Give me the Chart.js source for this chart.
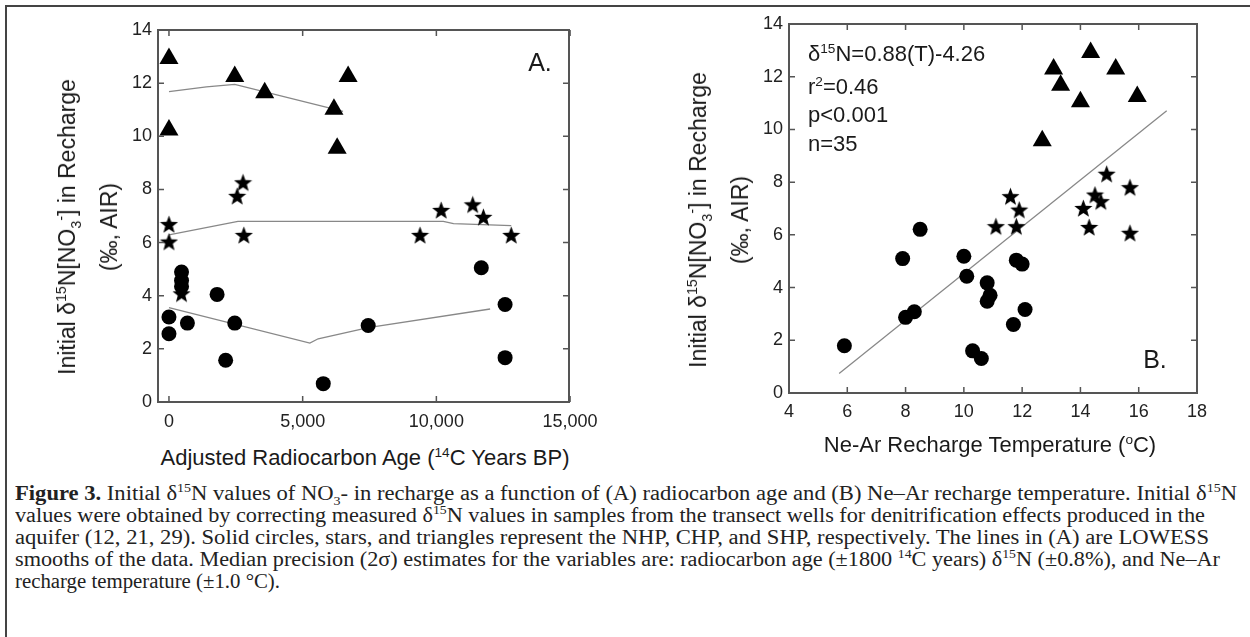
<!DOCTYPE html>
<html>
<head>
<meta charset="utf-8">
<script src="https://cdn.jsdelivr.net/npm/chart.js@4"></script>
<style>
  body { margin:0; background:#fff; width:1250px; height:637px; overflow:hidden; position:relative;
         font-family:'Liberation Sans', Arial, sans-serif; color:#1a1a1a; }
  .frame { position:absolute; left:5px; top:5px; width:1300px; height:700px;
           border-left:2px solid #444; border-top:2px solid #444; }
  canvas { position:absolute; top:0; }
  .lbl { position:absolute; white-space:nowrap; }
  sup, sub { font-size:0.62em; line-height:0; }
  .ytitle { transform:translate(-50%,-50%) rotate(-90deg); text-align:center; font-size:23px; line-height:42px; }
  .xtitle { transform:translate(-50%,-50%); font-size:22px; }
  .panel { transform:translate(-50%,-50%); font-size:25px; }
  .stat { font-size:22px; transform:translateY(-50%); }
  .cap { position:absolute; left:15px; top:482px; font-family:'Liberation Serif', 'Times New Roman', serif;
         font-size:20.5px; color:#222; }
  .cap .ln { height:22px; line-height:22px; white-space:nowrap; }
  .cap .ln span { display:inline-block; transform-origin:0 50%; }
</style>
</head>
<body>
<div class="frame"></div>
<canvas id="chartA" width="610" height="440" style="left:0px;width:610px;height:440px"></canvas>
<canvas id="chartB" width="620" height="440" style="left:620px;width:620px;height:440px"></canvas>

<div class="lbl ytitle" style="left:88px;top:227px">Initial δ<sup>15</sup>N[NO<sub>3</sub><sup>-</sup>] in Recharge<br>(‰, AIR)</div>
<div class="lbl xtitle" style="left:365px;top:458px">Adjusted Radiocarbon Age (<sup>14</sup>C Years BP)</div>
<div class="lbl panel" style="left:540px;top:62px">A.</div>

<div class="lbl ytitle" style="left:719px;top:220px">Initial δ<sup>15</sup>N[NO<sub>3</sub><sup>-</sup>] in Recharge<br>(‰, AIR)</div>
<div class="lbl xtitle" style="left:990px;top:445px">Ne-Ar Recharge Temperature (<sup>o</sup>C)</div>
<div class="lbl panel" style="left:1155px;top:359px">B.</div>
<div class="lbl stat" style="left:808px;top:54px">δ<sup>15</sup>N=0.88(T)-4.26</div>
<div class="lbl stat" style="left:808px;top:87px">r<sup>2</sup>=0.46</div>
<div class="lbl stat" style="left:808px;top:115px">p&lt;0.001</div>
<div class="lbl stat" style="left:808px;top:144px">n=35</div>

<div class="cap">
  <div class="ln" data-w="1222"><span><b>Figure 3.</b> Initial δ<sup>15</sup>N values of NO<sub>3</sub>- in recharge as a function of (A) radiocarbon age and (B) Ne–Ar recharge temperature. Initial δ<sup>15</sup>N</span></div>
  <div class="ln" data-w="1190"><span>values were obtained by correcting measured δ<sup>15</sup>N values in samples from the transect wells for denitrification effects produced in the</span></div>
  <div class="ln" data-w="1194"><span>aquifer (12, 21, 29). Solid circles, stars, and triangles represent the NHP, CHP, and SHP, respectively. The lines in (A) are LOWESS</span></div>
  <div class="ln" data-w="1205"><span>smooths of the data. Median precision (2σ) estimates for the variables are: radiocarbon age (±1800 <sup>14</sup>C years) δ<sup>15</sup>N (±0.8%), and Ne–Ar</span></div>
  <div class="ln" data-w="265"><span>recharge temperature (±1.0 °C).</span></div>
</div>

<script>
// tick values
const ageTicks = [0, 5000, 10000, 15000];
const ageTickLabels = ['0', '5,000', '10,000', '15,000'];
const tempTicks = [4, 6, 8, 10, 12, 14, 16, 18];
const d15NTicks = [0, 2, 4, 6, 8, 10, 12, 14];

// panel A: radiocarbon age vs initial d15N
const ageNHP = [470, 470, 470, 0, 0, 690, 1800, 2460, 2120, 5770, 7450, 11680, 12570, 12570];
const d15NNHPA = [4.89, 4.57, 4.35, 3.2, 2.57, 2.97, 4.05, 2.97, 1.57, 0.69, 2.88, 5.05, 3.67, 1.67];
const ageCHP = [0, 0, 470, 2550, 2770, 2800, 9390, 10180, 11360, 11760, 12800];
const d15NCHPA = [6.68, 6.02, 4.07, 7.74, 8.25, 6.27, 6.27, 7.21, 7.42, 6.95, 6.27];
const ageSHP = [0, 0, 2460, 3580, 6170, 6290, 6700];
const d15NSHPA = [12.93, 10.24, 12.25, 11.64, 11.02, 9.55, 12.25];

// LOWESS smooths (panel A)
const lowessNHPx = [0, 5270, 5580, 7450, 12010];
const lowessNHPy = [3.55, 2.22, 2.38, 2.80, 3.50];
const lowessCHPx = [0, 2580, 10260, 10640, 12800];
const lowessCHPy = [6.29, 6.80, 6.80, 6.71, 6.64];
const lowessSHPx = [0, 1400, 2460, 6510];
const lowessSHPy = [11.68, 11.86, 11.95, 10.94];

// panel B: Ne-Ar recharge temperature vs initial d15N
const tempNHP = [5.9, 7.9, 8.5, 8.0, 8.3, 10.0, 10.1, 10.8, 10.9, 10.8, 10.3, 10.6, 11.8, 12.0, 12.1, 11.7];
const d15NNHPB = [1.79, 5.1, 6.21, 2.87, 3.08, 5.19, 4.43, 4.18, 3.71, 3.48, 1.6, 1.31, 5.04, 4.89, 3.17, 2.6];
const tempCHP = [14.9, 15.7, 11.6, 11.9, 14.5, 14.7, 14.1, 11.1, 11.8, 14.3, 15.7];
const d15NCHPB = [8.3, 7.79, 7.45, 6.94, 7.51, 7.26, 7.0, 6.31, 6.31, 6.28, 6.06];
const tempSHP = [14.35, 13.08, 13.32, 15.21, 14.0, 15.95, 12.69];
const d15NSHPB = [12.92, 12.29, 11.68, 12.29, 11.05, 11.25, 9.57];
const regT = [5.72, 16.96];
const regN = [0.74, 10.71];

function pts(xs, ys) {
    return xs.map((x, i) => ({ x: x, y: ys[i] }));
}

// filled five point star for the CHP symbol
function makeStar(size) {
    const c = document.createElement('canvas');
    c.width = size;
    c.height = size;
    const g = c.getContext('2d');
    const r1 = size / 2, r2 = size * 0.21;
    g.beginPath();
    for (let i = 0; i < 10; i++) {
        const r = i % 2 ? r2 : r1;
        const a = -Math.PI / 2 + i * Math.PI / 5;
        g.lineTo(size / 2 + r * Math.cos(a), size / 2 + 0.5 + r * Math.sin(a));
    }
    g.closePath();
    g.fillStyle = '#000';
    g.fill();
    return c;
}
const starImg = makeStar(19);

const framePlugin = {
    id: 'frame',
    afterDatasetsDraw(chart) {
        const { ctx, chartArea: a, scales } = chart;
        ctx.save();
        ctx.strokeStyle = '#555';
        ctx.lineWidth = 2;
        ctx.strokeRect(a.left, a.top, a.right - a.left, a.bottom - a.top);
        ctx.lineWidth = 1.5;
        ctx.beginPath();
        scales.x.ticks.forEach(t => {
            const px = scales.x.getPixelForValue(t.value);
            ctx.moveTo(px, a.bottom); ctx.lineTo(px, a.bottom - 6);
            ctx.moveTo(px, a.top); ctx.lineTo(px, a.top + 6);
        });
        scales.y.ticks.forEach(t => {
            const py = scales.y.getPixelForValue(t.value);
            ctx.moveTo(a.left, py); ctx.lineTo(a.left + 6, py);
            ctx.moveTo(a.right, py); ctx.lineTo(a.right - 6, py);
        });
        ctx.stroke();
        ctx.restore();
    }
};

Chart.defaults.font.family = "'Liberation Sans', Arial, sans-serif";
Chart.defaults.color = '#222';

function dots(data, style, radius) {
    return { data: data, pointStyle: style, pointRadius: radius, backgroundColor: '#000', borderWidth: 0, order: 1 };
}
function smooth(data) {
    return { data: data, showLine: true, pointRadius: 0, borderColor: '#888', borderWidth: 1.3, fill: false, order: 2 };
}

function makeOptions(x, y) {
    return {
        responsive: false,
        animation: false,
        events: [],
        devicePixelRatio: 1,
        layout: { padding: x.padding },
        plugins: { legend: { display: false }, tooltip: { enabled: false } },
        scales: {
            x: {
                type: 'linear', min: x.min, max: x.max,
                afterBuildTicks: s => { s.ticks = x.ticks.map(v => ({ value: v })); },
                afterFit: s => { s.height = x.height; },
                grid: { display: false, drawTicks: false },
                border: { display: false },
                ticks: { autoSkip: false, maxRotation: 0, padding: x.labelPad, font: { size: 18 },
                         callback: v => x.labels[x.ticks.indexOf(v)] }
            },
            y: {
                type: 'linear', min: 0, max: 14,
                afterBuildTicks: s => { s.ticks = d15NTicks.map(v => ({ value: v })); },
                afterFit: s => { s.width = y.width; },
                grid: { display: false, drawTicks: false },
                border: { display: false },
                ticks: { autoSkip: false, padding: 6, font: { size: 18 }, callback: v => String(v) }
            }
        }
    };
}

new Chart(document.getElementById('chartA'), {
    type: 'scatter',
    data: {
        datasets: [
            dots(pts(ageNHP, d15NNHPA), 'circle', 7.5),
            dots(pts(ageCHP, d15NCHPA), starImg, 9),
            dots(pts(ageSHP, d15NSHPA), 'triangle', 11),
            smooth(pts(lowessNHPx, lowessNHPy)),
            smooth(pts(lowessCHPx, lowessCHPy)),
            smooth(pts(lowessSHPx, lowessSHPy))
        ]
    },
    options: makeOptions(
        { min: -410, max: 14960, ticks: ageTicks, labels: ageTickLabels, height: 38, labelPad: 9,
          padding: { left: 0, top: 30, right: 41, bottom: 0 } },
        { width: 158 }
    ),
    plugins: [framePlugin]
});

new Chart(document.getElementById('chartB'), {
    type: 'scatter',
    data: {
        datasets: [
            dots(pts(tempNHP, d15NNHPB), 'circle', 7.5),
            dots(pts(tempCHP, d15NCHPB), starImg, 9),
            dots(pts(tempSHP, d15NSHPB), 'triangle', 11),
            smooth(pts(regT, regN))
        ]
    },
    options: makeOptions(
        { min: 4, max: 18, ticks: tempTicks, labels: tempTicks.map(String), height: 47, labelPad: 8,
          padding: { left: 0, top: 24, right: 43, bottom: 0 } },
        { width: 169 }
    ),
    plugins: [framePlugin]
});

// the printed caption face is wider than Times, so widen each line to its printed width
document.querySelectorAll('.cap .ln').forEach(el => {
    const span = el.firstElementChild;
    const k = Number(el.dataset.w) / span.getBoundingClientRect().width;
    span.style.transform = 'scaleX(' + k + ')';
});
</script>
</body>
</html>
